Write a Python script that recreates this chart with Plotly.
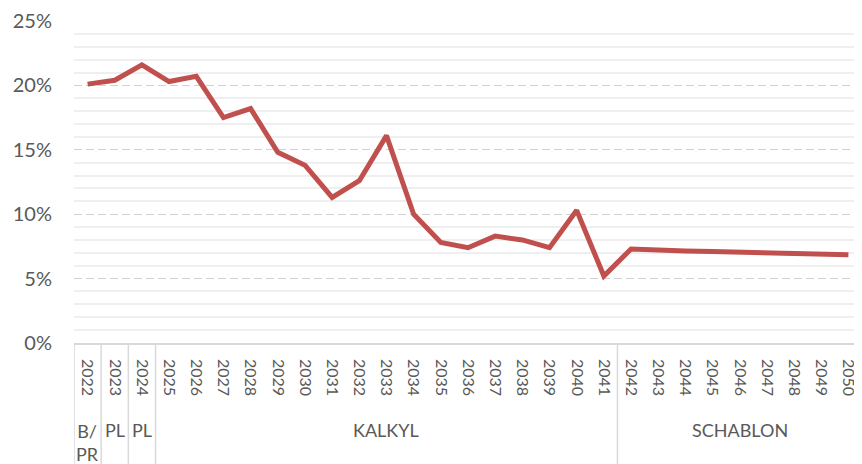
import plotly.graph_objects as go

# Data
years = [str(y) for y in range(2022, 2051)]
share = [20.1, 20.4, 21.6, 20.3, 20.7, 17.5, 18.2, 14.8, 13.8, 11.3, 12.6, 16.1, 10.0,
         7.8, 7.4, 8.3, 8.0, 7.4, 10.3, 5.2, 7.3, 7.2, 7.15, 7.1, 7.05, 7.0, 6.95, 6.9, 6.85]
groups = ["B/<br>PR", "PL", "PL", "KALKYL", "SCHABLON"]
group_sizes = [1, 1, 1, 17, 9]

grey = "#595959"
font = "Lato"

idx = list(range(len(years)))
fig = go.Figure()
fig.add_trace(go.Scatter(x=idx, y=[v / 100 for v in share], mode="lines",
                         line=dict(color="#C0504D", width=5), hoverinfo="skip"))

# group labels and dividers under the year labels
start = 0
for name, size in zip(groups, group_sizes):
    centre = start + (size - 1) / 2
    shift = -99 if "<br>" in name else -87
    fig.add_annotation(x=centre, y=0, xref="x", yref="paper", text=name, showarrow=False,
                       yanchor="middle", yshift=shift,
                       font=dict(family=font, size=18, color=grey))
    fig.add_shape(type="line", xref="x", yref="paper", x0=start - 0.5, x1=start - 0.5,
                  y0=0, y1=-0.38, line=dict(color="#d9d9d9", width=1.5))
    start += size

# page body has an 8px margin, so the figure is a bit smaller than the window
fig.update_layout(
    width=854, height=456, margin=dict(l=66, r=0, t=13, b=121),
    plot_bgcolor="white", paper_bgcolor="white", showlegend=False,
    font=dict(family=font, color=grey),
)
fig.update_xaxes(range=[-0.5, len(years) - 0.5], tickvals=idx, ticktext=years, tickangle=90,
                 tickfont=dict(size=16, color=grey), showgrid=False, zeroline=False,
                 showline=True, linecolor="#d9d9d9", linewidth=1.5, ticks="",
                 ticklabelstandoff=11, automargin=False)
fig.update_yaxes(range=[0, 0.25], dtick=0.05, tickformat=".0%", tickfont=dict(size=20, color=grey),
                 showgrid=True, gridcolor="#d0d0d0", griddash="8px,4px", gridwidth=1.2,
                 minor=dict(dtick=0.01, showgrid=True, gridcolor="#efefef", gridwidth=1.5,
                            griddash="solid"),
                 zeroline=False, ticklabelstandoff=21, automargin=False)

fig.write_html("out.html")
